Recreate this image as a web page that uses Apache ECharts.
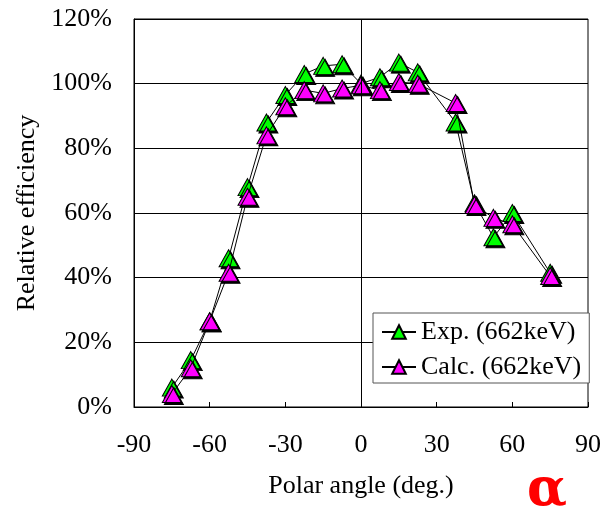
<!DOCTYPE html>
<html>
<head>
<meta charset="utf-8">
<script src="https://cdn.jsdelivr.net/npm/echarts@6/dist/echarts.min.js"></script>
<style>
html,body{margin:0;padding:0;background:#fff;}
#chart{width:604px;height:510px;}
</style>
</head>
<body>
<div id="chart"></div>
<script>
var angles = [-75, -67.5, -60, -52.5, -45, -37.5, -30, -22.5, -15, -7.5, 0, 7.5, 15, 22.5, 37.5, 45, 52.5, 60, 75];
var expValues = [6, 14.5, 26.5, 46, 68, 88, 96.5, 103, 105.5, 106, 100, 102, 106.5, 103.5, 88, 63, 52.5, 60, 41.5];
var calcValues = [4, 12, 26.5, 41.5, 65, 84, 93, 98, 97, 98.5, 99.5, 98, 100.5, 100, 94, 62.5, 58.5, 56.5, 40.5];
var xTicks = [-90, -60, -30, 0, 30, 60, 90];
var yTicks = [0, 20, 40, 60, 80, 100, 120];
var seriesNames = ['Exp. (662keV)', 'Calc. (662keV)'];

function pairs(xs, ys) { return xs.map(function (x, i) { return [x, ys[i]]; }); }

var FONT = 'Liberation Serif';
var FS = 26;
var chart = echarts.init(document.getElementById('chart'), null, {renderer: 'canvas'});

function mkSeries(name, vals, color, z) {
  return {
    name: name,
    type: 'line',
    data: pairs(angles, vals),
    symbol: 'triangle',
    symbolSize: [19, 17],
    z: z,
    lineStyle: {color: '#000', width: 1},
    itemStyle: {
      color: color, borderColor: '#000', borderWidth: 1,
      shadowColor: '#000', shadowBlur: 0, shadowOffsetX: 2, shadowOffsetY: 2
    },
    emphasis: {disabled: true},
    animation: false
  };
}

var s1 = mkSeries(seriesNames[0], expValues, '#00ff00', 2);
var s2 = mkSeries(seriesNames[1], calcValues, '#ff00ff', 3);
s1.markLine = {
  silent: true, symbol: 'none', label: {show: false},
  lineStyle: {color: '#000', width: 1, type: 'solid'},
  data: [{xAxis: 0}], animation: false
};

chart.setOption({
  animation: false,
  backgroundColor: '#fff',
  grid: {left: 134, right: 12, top: 19, bottom: 103, show: true, borderColor: '#000', borderWidth: 1, backgroundColor: 'transparent'},
  xAxis: {
    type: 'value', min: xTicks[0], max: xTicks[xTicks.length - 1], interval: 30,
    name: 'Polar angle (deg.)', nameLocation: 'middle', nameGap: 66,
    nameTextStyle: {fontFamily: FONT, fontSize: FS, color: '#000'},
    axisLine: {onZero: false, lineStyle: {color: '#000', width: 1}},
    axisTick: {show: true, inside: true, length: 5, lineStyle: {color: '#000'}},
    axisLabel: {fontFamily: FONT, fontSize: FS, color: '#000', margin: 25},
    splitLine: {show: false}
  },
  yAxis: {
    type: 'value', min: yTicks[0], max: yTicks[yTicks.length - 1], interval: 20,
    name: 'Relative efficiency', nameLocation: 'middle', nameGap: 91,
    nameTextStyle: {fontFamily: FONT, fontSize: FS, color: '#000'},
    axisLine: {show: true, onZero: false, lineStyle: {color: '#000', width: 1}},
    axisTick: {show: true, inside: true, length: 4, lineStyle: {color: '#000'}},
    axisLabel: {fontFamily: FONT, fontSize: FS, color: '#000', margin: 22, formatter: '{value}%'},
    splitLine: {show: true, lineStyle: {color: '#000', width: 1}}
  },
  legend: {
    data: seriesNames,
    orient: 'vertical',
    left: 373, top: 313,
    padding: [6, 8, 3, 8],
    itemGap: 9,
    itemWidth: 34, itemHeight: 17,
    backgroundColor: '#fff',
    borderColor: '#555', borderWidth: 1,
    textStyle: {fontFamily: FONT, fontSize: FS, color: '#000'},
    selectedMode: false
  },
  graphic: [{
    type: 'text', left: 527, top: 465,
    style: {text: 'α', fontFamily: 'DejaVu Serif', fontWeight: 'bold', fontSize: 52, fill: '#ff0000'}
  }],
  series: [s1, s2]
});
</script>
</body>
</html>
